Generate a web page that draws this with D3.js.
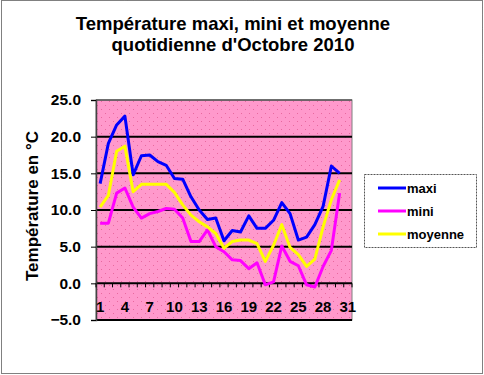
<!DOCTYPE html>
<html>
<head>
<meta charset="utf-8">
<script src="https://cdn.jsdelivr.net/npm/d3@7"></script>
<style>
  body { margin: 0; background: #fff; }
  svg text { font-family: "Liberation Sans", Arial, sans-serif; font-weight: bold; fill: #000; }
</style>
</head>
<body>
<script>
const w = 484;
const h = 375;

// data (octobre 2010, jour 31 absent)
const days = d3.range(1, 32);
const dayLabels = [1, 4, 7, 10, 13, 16, 19, 22, 25, 28, 31];
const yTicks = [-5, 0, 5, 10, 15, 20, 25];
const maxi = [13.6, 19.1, 21.6, 22.8, 14.8, 17.4, 17.5, 16.6, 16.1, 14.3, 14.2, 11.8, 10.0, 8.7, 8.9,
              5.8, 7.2, 7.0, 9.2, 7.5, 7.5, 8.6, 11.0, 9.5, 5.9, 6.3, 8.0, 10.5, 16.0, 15.0];
const mini = [8.2, 8.2, 12.3, 13.0, 10.4, 8.9, 9.5, 9.8, 10.2, 10.1, 8.9, 5.7, 5.7, 7.3, 5.0,
              4.3, 3.2, 3.1, 2.0, 2.8, -0.2, 0.2, 5.1, 3.0, 2.4, -0.2, -0.5, 2.3, 4.5, 12.3];
const moyenne = [10.4, 12.0, 18.0, 18.7, 12.5, 13.5, 13.5, 13.5, 13.5, 12.4, 10.7, 9.3, 8.4, 7.7, 6.8,
                 4.8, 5.7, 5.9, 5.9, 5.4, 3.0, 5.2, 8.0, 4.9, 3.9, 2.3, 3.3, 7.7, 11.4, 14.1];
const seriesNames = ["maxi", "mini", "moyenne"];
const seriesColors = ["#0000ff", "#ff00ff", "#ffff00"];
const seriesData = [maxi, mini, moyenne];

const plot = { left: 96, right: 352, top: 100, bottom: 320 };

var svg = d3.select("body")
            .append("svg")
            .attr("width", w)
            .attr("height", h);

// outer dotted frame
svg.append("rect")
   .attr("x", 1.5).attr("y", 0.5)
   .attr("width", w - 3).attr("height", h - 2)
   .attr("fill", "#fff")
   .attr("stroke", "#000")
   .attr("stroke-dasharray", "1,1");

const defs = svg.append("defs");
const pat = defs.append("pattern")
                .attr("id", "dots")
                .attr("width", 8).attr("height", 8)
                .attr("patternUnits", "userSpaceOnUse");
pat.append("rect").attr("width", 8).attr("height", 8).attr("fill", "#ff99cc");
pat.append("rect").attr("x", 1).attr("y", 1).attr("width", 1).attr("height", 1).attr("fill", "#e8689f");
pat.append("rect").attr("x", 5).attr("y", 5).attr("width", 1).attr("height", 1).attr("fill", "#e8689f");

const xScale = d3.scaleBand()
                 .domain(days)
                 .range([plot.left, plot.right])
                 .padding(0);
const xEdge = d3.scaleLinear()
                .domain([0, days.length])
                .range([plot.left, plot.right]);
const yScale = d3.scaleLinear()
                 .domain([-5, 25])
                 .range([plot.bottom, plot.top]);
const cx = d => xScale(d) + xScale.bandwidth() / 2;

// plot area
svg.append("rect")
   .attr("x", plot.left).attr("y", plot.top)
   .attr("width", plot.right - plot.left)
   .attr("height", plot.bottom - plot.top)
   .attr("fill", "url(#dots)")
   .attr("stroke", "#808080")
   .attr("stroke-width", 1);

// horizontal grid
svg.append("g")
   .selectAll("line")
   .data(yTicks.filter(v => v > -5 && v < 25))
   .enter()
   .append("line")
   .attr("x1", plot.left).attr("x2", plot.right)
   .attr("y1", d => yScale(d)).attr("y2", d => yScale(d))
   .attr("stroke", "#000")
   .attr("stroke-width", 2);
svg.append("line")
   .attr("x1", plot.left).attr("x2", plot.right)
   .attr("y1", yScale(-5)).attr("y2", yScale(-5))
   .attr("stroke", "#000").attr("stroke-width", 2);
svg.append("line")
   .attr("x1", plot.left).attr("x2", plot.right)
   .attr("y1", yScale(25)).attr("y2", yScale(25))
   .attr("stroke", "#555").attr("stroke-width", 1.5);

// y axis
const yAxis = d3.axisLeft(yScale)
                .tickValues(yTicks)
                .tickFormat(d3.format(".1f"))
                .tickSize(5)
                .tickPadding(10);
const yG = svg.append("g")
   .attr("transform", "translate(" + plot.left + ",0)")
   .call(yAxis);
yG.select(".domain").attr("stroke", "#444").attr("stroke-width", 1.5);
yG.selectAll(".tick line").attr("stroke", "#000");
yG.selectAll("text").attr("font-size", 15.5).attr("font-family", null).attr("fill", "#000");

// x axis on the 0 line
const xTickG = svg.append("g");
xTickG.selectAll("line")
      .data(d3.range(0, days.length + 1))
      .enter()
      .append("line")
      .attr("x1", d => xEdge(d)).attr("x2", d => xEdge(d))
      .attr("y1", yScale(0)).attr("y2", yScale(0) + 4)
      .attr("stroke", "#000");

const xAxis = d3.axisBottom(xScale)
                .tickValues(dayLabels)
                .tickSize(0)
                .tickPadding(18);
const xG = svg.append("g")
   .attr("transform", "translate(0," + yScale(0) + ")")
   .call(xAxis);
xG.select(".domain").remove();
xG.selectAll("text").attr("font-size", 15).attr("font-family", null).attr("fill", "#000");

// lines
const line = d3.line()
               .x((d, i) => cx(days[i]))
               .y(d => yScale(d));
svg.append("g")
   .selectAll("path")
   .data(seriesData)
   .enter()
   .append("path")
   .attr("d", d => line(d))
   .attr("fill", "none")
   .attr("stroke", (d, i) => seriesColors[i])
   .attr("stroke-width", 3)
   .attr("stroke-linejoin", "round");

// title
const title = svg.append("text")
   .attr("text-anchor", "middle")
   .attr("font-size", 18.5);
title.append("tspan").attr("x", 233).attr("y", 30).text("Température maxi, mini et moyenne");
title.append("tspan").attr("x", 233).attr("y", 51).text("quotidienne d'Octobre 2010");

// y label
svg.append("text")
   .attr("transform", "translate(38,206) rotate(-90)")
   .attr("text-anchor", "middle")
   .attr("font-size", 17)
   .text("Température en °C");

// legend
const legend = svg.append("g");
legend.append("rect")
      .attr("x", 364.5).attr("y", 174.5)
      .attr("width", 112).attr("height", 73)
      .attr("fill", "#fff")
      .attr("stroke", "#555")
      .attr("stroke-dasharray", "2,1");
const item = legend.selectAll(".item")
      .data(seriesNames)
      .enter()
      .append("g")
      .attr("transform", (d, i) => "translate(378," + (188 + i * 23) + ")");
item.append("line")
    .attr("x1", 0).attr("x2", 28)
    .attr("stroke", (d, i) => seriesColors[i])
    .attr("stroke-width", 3);
item.append("text")
    .attr("x", 29).attr("y", 4.5)
    .attr("font-size", 13)
    .text(d => d);
</script>
</body>
</html>
